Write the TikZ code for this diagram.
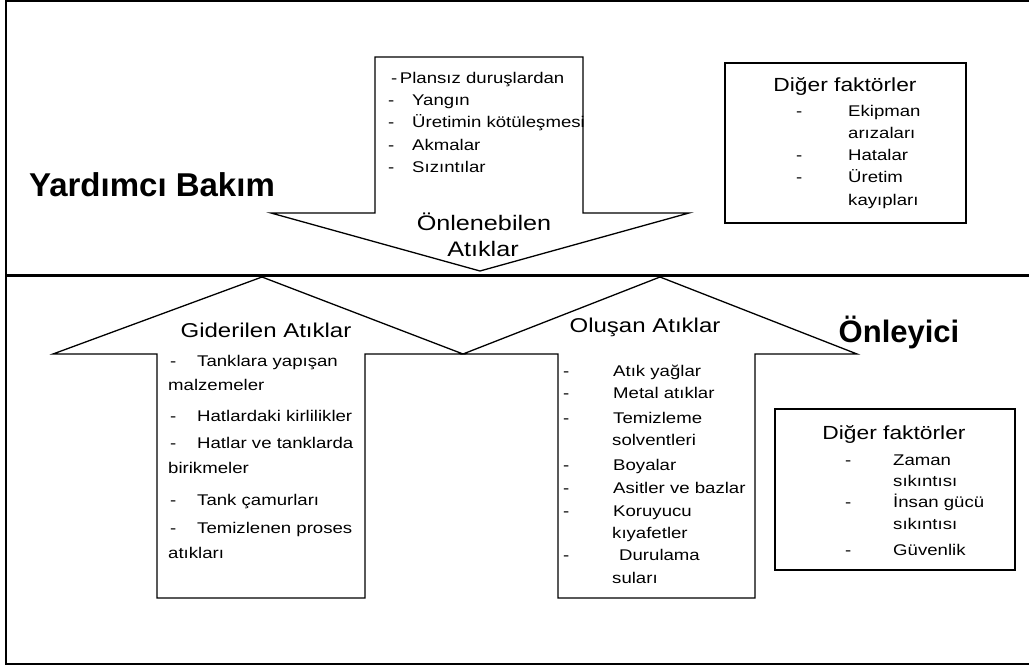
\documentclass[tikz,border=0pt]{standalone}
\usepackage{fontspec}
\setmainfont{Liberation Sans}[FakeStretch=1.2]
\newfontfamily\headfont{Liberation Sans}
\usetikzlibrary{positioning}

\begin{document}
\begin{tikzpicture}[
    x=1pt, y=-1pt,
    frame/.style={draw, line width=1.6pt},
    divider/.style={draw, line width=3pt},
    bigarrow/.style={draw, line width=1.3pt, fill=white, line join=miter},
    factbox/.style={draw, line width=1.8pt},
    item/.style={anchor=west, inner sep=0pt, text height=1.5ex, text depth=.3ex, font=\fontsize{15.5}{18}\selectfont},
    head/.style={inner sep=0pt, font=\fontsize{20}{24}\selectfont},
    title/.style={inner sep=0pt, font=\headfont\bfseries\fontsize{33}{38}\selectfont}
]
\useasboundingbox (0,0) rectangle (1029,666);
\clip (0,0) rectangle (1029,666);
% Frame and divider
\draw[frame] (6,1) rectangle (1034,664);
\draw[divider] (6,275) -- (1034,275);
% Top arrow (pointing down)
\draw[bigarrow] (375,57) -- (583,57) -- (583,213) -- (689,213) -- (480,271) -- (271,213) -- (375,213) -- cycle;
\node[item] (p0) at (391,80) {-\,Plansız duruşlardan};
\node[item] (p1d) at (388,102) {-};
\node[item] (p1) at (412,102) {Yangın};
\node[item] (p2d) at (388,124) {-};
\node[item] (p2) at (412,124) {Üretimin kötüleşmesi};
\node[item] (p3d) at (388,147) {-};
\node[item] (p3) at (412,147) {Akmalar};
\node[item] (p4d) at (388,169) {-};
\node[item] (p4) at (412,169) {Sızıntılar};
\node[head, font=\fontsize{21}{25}\selectfont] (onl) at (484,222) {Önlenebilen};
\node[head, font=\fontsize{21}{25}\selectfont] (onl2) at (483,249) {Atıklar};
% Titles
\node[title] (yb) at (152,185) {Yardımcı Bakım};
\node[title, font=\headfont\bfseries\fontsize{31}{36}\selectfont] (oy) at (899,332) {Önleyici};
% Top right box
\draw[factbox] (725,63) rectangle (966,223);
\node[head, font=\fontsize{19}{23}\selectfont] (df1) at (845,86) {Diğer faktörler};
\node[item] (e1d) at (796,113) {-};
\node[item] (e1) at (848,113) {Ekipman};
\node[item] (e1b) at (848,135) {arızaları};
\node[item] (e2d) at (796,157) {-};
\node[item] (e2) at (848,157) {Hatalar};
\node[item] (e3d) at (796,179) {-};
\node[item] (e3) at (848,179) {Üretim};
\node[item] (e3b) at (848,202) {kayıpları};
% Bottom left arrow (pointing up)
\draw[bigarrow] (157,598) -- (157,354) -- (53,354) -- (262,277) -- (463,354) -- (365,354) -- (365,598) -- cycle;
\node[head] (gid) at (266,330) {Giderilen Atıklar};
\node[item] (g1d) at (170,363) {-};
\node[item] (g1) at (197,363) {Tanklara yapışan};
\node[item] (g1b) at (168,387) {malzemeler};
\node[item] (g2d) at (170,418) {-};
\node[item] (g2) at (197,418) {Hatlardaki kirlilikler};
\node[item] (g3d) at (170,445) {-};
\node[item] (g3) at (197,445) {Hatlar ve tanklarda};
\node[item] (g3b) at (168,470) {birikmeler};
\node[item] (g4d) at (170,502) {-};
\node[item] (g4) at (197,502) {Tank çamurları};
\node[item] (g5d) at (170,530) {-};
\node[item] (g5) at (197,530) {Temizlenen proses};
\node[item] (g5b) at (168,555) {atıkları};
% Bottom middle arrow (pointing up)
\draw[bigarrow] (558,598) -- (558,354) -- (463,354) -- (660,277) -- (857,354) -- (755,354) -- (755,598) -- cycle;
\node[head] (olu) at (645,327) {Oluşan Atıklar};
\node[item] (o1d) at (563,373) {-};
\node[item] (o1) at (613,373) {Atık yağlar};
\node[item] (o2d) at (563,395) {-};
\node[item] (o2) at (613,395) {Metal atıklar};
\node[item] (o3d) at (563,420) {-};
\node[item] (o3) at (613,420) {Temizleme};
\node[item] (o3b) at (612,442) {solventleri};
\node[item] (o4d) at (563,467) {-};
\node[item] (o4) at (613,467) {Boyalar};
\node[item] (o5d) at (563,490) {-};
\node[item] (o5) at (613,490) {Asitler ve bazlar};
\node[item] (o6d) at (563,513) {-};
\node[item] (o6) at (613,513) {Koruyucu};
\node[item] (o6b) at (612,535) {kıyafetler};
\node[item] (o7d) at (563,557) {-};
\node[item] (o7) at (619,557) {Durulama};
\node[item] (o7b) at (612,580) {suları};
% Bottom right box
\draw[factbox] (775,409) rectangle (1015,570);
\node[head, font=\fontsize{19}{23}\selectfont] (df2) at (894,434) {Diğer faktörler};
\node[item] (z1d) at (845,462) {-};
\node[item] (z1) at (893,462) {Zaman};
\node[item] (z1b) at (893,483) {sıkıntısı};
\node[item] (z2d) at (845,504) {-};
\node[item] (z2) at (893,504) {İnsan gücü};
\node[item] (z2b) at (893,526) {sıkıntısı};
\node[item] (z3d) at (845,552) {-};
\node[item] (z3) at (893,552) {Güvenlik};
\end{tikzpicture}
\end{document}
